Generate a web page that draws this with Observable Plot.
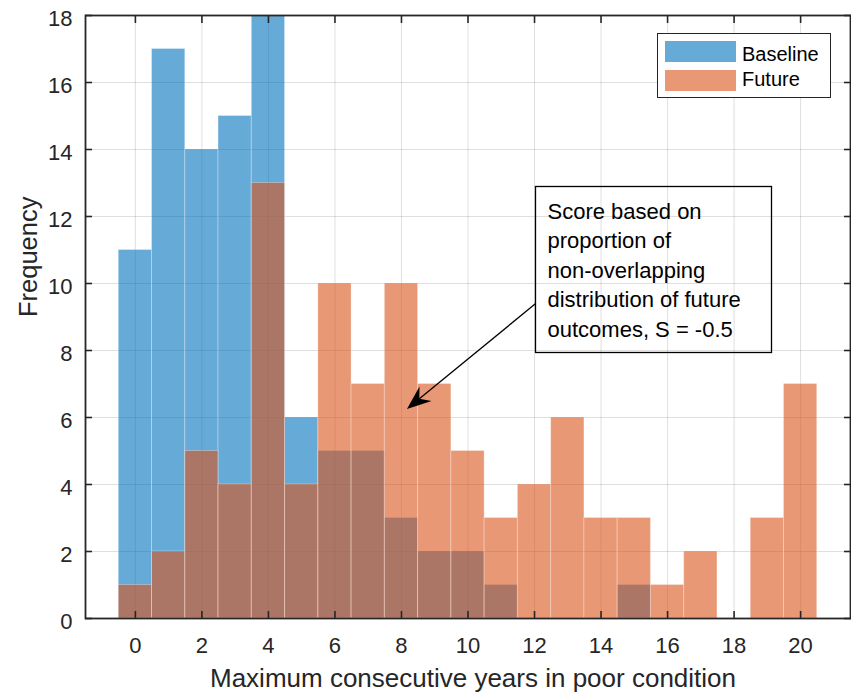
<!DOCTYPE html>
<html>
<head>
<meta charset="utf-8">
<script src="https://cdn.jsdelivr.net/npm/d3@7"></script>
<script src="https://cdn.jsdelivr.net/npm/@observablehq/plot@0.6"></script>
<style>
  body { margin: 0; background: #fff; }
  #wrap { width: 851px; height: 692px; }
</style>
</head>
<body>
<div id="wrap"></div>
<script>
// ---- data ----
const bins = [0, 1, 2, 3, 4, 5, 6, 7, 8, 9, 10, 11, 12, 13, 14, 15, 16, 17, 18, 19, 20];
const baseline = [11, 17, 14, 15, 18, 6, 5, 5, 3, 2, 2, 1, 0, 0, 0, 1, 0, 0, 0, 0, 0];
const future   = [1, 2, 5, 4, 13, 4, 10, 7, 10, 7, 5, 3, 4, 6, 3, 3, 1, 2, 0, 3, 7];
const xTicks = [0, 2, 4, 6, 8, 10, 12, 14, 16, 18, 20];
const yTicks = [0, 2, 4, 6, 8, 10, 12, 14, 16, 18];
const seriesNames = ["Baseline", "Future"];
const seriesColors = ["#0072BD", "#D95319"];
const xLabel = "Maximum consecutive years in poor condition";
const yLabel = "Frequency";
const noteLines = ["Score based on", "proportion of", "non-overlapping", "distribution of future", "outcomes, S = -0.5"];
const arrowFrom = [12.04, 9.38];
const arrowTo = [8.18, 6.24];

const FONT = '"Liberation Sans", Arial, Helvetica, sans-serif';
const AX = "#262626";

const toRows = (vals) => bins.map((b, i) => ({bin: b, count: vals[i]})).filter(d => d.count > 0);
const baseRows = toRows(baseline);
const futRows = toRows(future);

function barMark(rows, color) {
  return Plot.rect(rows, {
    x1: d => d.bin - 0.5, x2: d => d.bin + 0.5, y1: 0, y2: d => d.count,
    fill: color, fillOpacity: 0.6,
    stroke: "white", strokeOpacity: 0.3, strokeWidth: 1
  });
}

const SVGNS = "http://www.w3.org/2000/svg";
function el(tag, attrs, parent) {
  const e = document.createElementNS(SVGNS, tag);
  for (const k in attrs) e.setAttribute(k, attrs[k]);
  if (parent) parent.appendChild(e);
  return e;
}

// arrow annotation (positioned in data space)
function arrowRender(index, scales) {
  const g = el("g", {});
  const tx = scales.x(arrowTo[0]), ty = scales.y(arrowTo[1]);
  const fx = scales.x(arrowFrom[0]), fy = scales.y(arrowFrom[1]);
  const len = Math.hypot(fx - tx, fy - ty);
  const ux = (fx - tx) / len, uy = (fy - ty) / len;
  const px = -uy, py = ux;
  const L = 24, W = 9.5, N = 16;
  el("line", {x1: fx, y1: fy, x2: tx + ux * N, y2: ty + uy * N, stroke: "black", "stroke-width": 1.3}, g);
  const pts = [
    [tx, ty],
    [tx + ux * L + px * W, ty + uy * L + py * W],
    [tx + ux * N, ty + uy * N],
    [tx + ux * L - px * W, ty + uy * L - py * W]
  ];
  el("polygon", {points: pts.map(p => p.join(",")).join(" "), fill: "black"}, g);
  return g;
}

// legend + text box (figure-level annotations)
function overlayRender() {
  const g = el("g", {"font-family": FONT, "text-anchor": "start"});
  // legend
  el("rect", {x: 657.5, y: 33.5, width: 173, height: 64, fill: "white", stroke: AX, "stroke-width": 1}, g);
  seriesNames.forEach((name, i) => {
    el("rect", {x: 665, y: 41 + i * 29, width: 71, height: 21, fill: seriesColors[i], "fill-opacity": 0.6}, g);
    const t = el("text", {x: 742, y: 61 + i * 24.5, "font-size": 20, fill: "black", "text-anchor": "start"}, g);
    t.textContent = name;
  });
  // note box
  el("rect", {x: 535.5, y: 186.5, width: 236, height: 166, fill: "none", stroke: "black", "stroke-width": 1.3}, g);
  noteLines.forEach((line, i) => {
    const t = el("text", {x: 547.5, y: 219 + i * 29.4, "font-size": 22, fill: "black", "text-anchor": "start"}, g);
    t.textContent = line;
  });
  return g;
}

const chart = Plot.plot({
  width: 851,
  height: 692,
  marginLeft: 85,
  marginRight: 1,
  marginTop: 15,
  marginBottom: 74,
  style: {fontFamily: FONT, fontSize: "22px", color: AX, background: "white"},
  x: {domain: [-1.5, 21.5]},
  y: {domain: [0, 18]},
  marks: [
    Plot.gridX(xTicks, {stroke: AX, strokeOpacity: 0.15, strokeWidth: 1}),
    Plot.gridY(yTicks, {stroke: AX, strokeOpacity: 0.15, strokeWidth: 1}),
    barMark(baseRows, seriesColors[0]),
    barMark(futRows, seriesColors[1]),
    // inward ticks on all four sides
    Plot.axisX(xTicks, {anchor: "bottom", tickSize: 7, dy: -7, fill: "none", label: null, stroke: AX, strokeWidth: 1.6}),
    Plot.axisX(xTicks, {anchor: "top", tickSize: 7, dy: 7, fill: "none", label: null, stroke: AX, strokeWidth: 1.6}),
    Plot.axisY(yTicks, {anchor: "left", tickSize: 7, dx: 7, fill: "none", label: null, stroke: AX, strokeWidth: 1.6}),
    Plot.axisY(yTicks, {anchor: "right", tickSize: 7, dx: -7, fill: "none", label: null, stroke: AX, strokeWidth: 1.6}),
    Plot.frame({stroke: AX, strokeWidth: 1.8}),
    // tick labels
    Plot.text(xTicks, {x: d => d, frameAnchor: "bottom", dy: 34, lineAnchor: "bottom", text: d => String(d), fill: AX, fontSize: 22}),
    Plot.text(yTicks, {y: d => d, frameAnchor: "left", dx: -13, dy: 3, textAnchor: "end", lineAnchor: "middle", text: d => String(d), fill: AX, fontSize: 22}),
    // axis labels
    Plot.text([xLabel], {frameAnchor: "bottom", dy: 68, dx: 5, lineAnchor: "bottom", fill: AX, fontSize: 26}),
    Plot.text([yLabel], {frameAnchor: "left", dx: -49, rotate: -90, lineAnchor: "bottom", fill: AX, fontSize: 25.5}),
    arrowRender,
    overlayRender
  ]
});

document.getElementById("wrap").appendChild(chart);
</script>
</body>
</html>
